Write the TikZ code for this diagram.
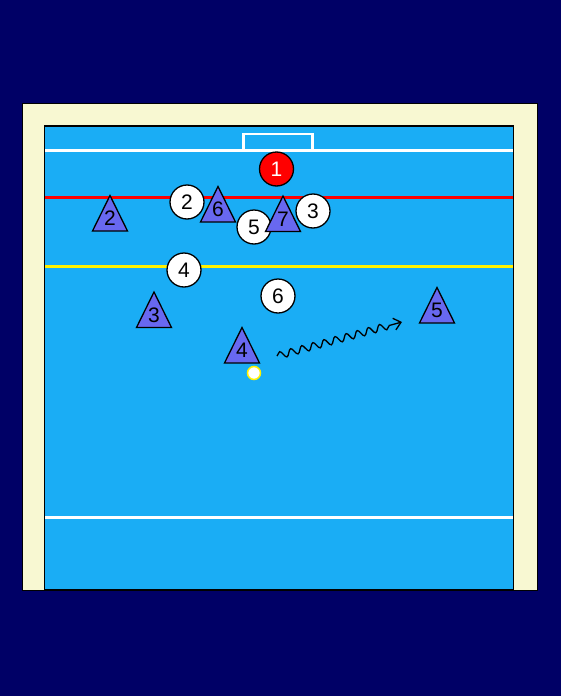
\documentclass[tikz,border=0pt]{standalone}
\usepackage{fontspec}
\setmainfont{Liberation Sans}
\usetikzlibrary{decorations.pathmorphing,arrows.meta}
\definecolor{navybg}{RGB}{0,0,102}
\definecolor{creambg}{RGB}{248,248,210}
\definecolor{pool}{RGB}{26,173,245}
\definecolor{tricol}{RGB}{104,104,240}
\tikzset{
  defender/.style={circle, draw=black, line width=1.3pt, fill=white, minimum size=34pt, inner sep=0pt, font=\fontsize{21}{21}\selectfont},
  keeper/.style={defender, fill=red, text=white},
  trishape/.style={draw=black, line width=1.3pt, fill=tricol, line join=miter},
  trilabel/.style={inner sep=0pt, font=\fontsize{21}{21}\selectfont},
  courtline/.style={line width=3pt},
}
\newcommand{\attackerpl}[4]{% name, x, apex y, label
  \fill[trishape] (#2-17.5,#3+35.5) -- (#2,#3) -- (#2+17.5,#3+35.5) -- cycle;
  \node[trilabel] (#1) at (#2,#3+23) {#4};
}
\begin{document}
\begin{tikzpicture}[x=1pt,y=-1pt]
\useasboundingbox (0,0) rectangle (560,696);
\fill[navybg] (-3,-3) rectangle (563,699);
\draw[fill=creambg, draw=black, line width=1pt] (22,103) rectangle (537,590);
\draw[fill=pool, draw=black, line width=1.3pt] (44.5,126) rectangle (513.5,590);
% lines
\draw[courtline, white] (45,150) -- (513,150);
\draw[white, line width=2.5pt] (243.5,150) -- (243.5,134) -- (312.5,134) -- (312.5,150);
\draw[courtline, red] (45,197) -- (513,197);
\draw[courtline, yellow] (45,266) -- (513,266);
\draw[courtline, white] (45,517) -- (513,517);
% defenders
\node[keeper] (k1) at (276.5,169) {1};
\node[defender] (d2) at (187,202) {2};
\node[defender] (d4) at (184,270) {4};
\node[defender] (d6) at (278,296) {6};
% attackers
\attackerpl{a2}{110}{195.5}{2}
\attackerpl{a6}{218}{186.5}{6}
\node[defender] (d5) at (254,227) {5};
\attackerpl{a7}{283}{196}{7}
\node[defender] (d3) at (313,211) {3};
\attackerpl{a3}{154}{292}{3}
\attackerpl{a4}{242}{327.5}{4}
\attackerpl{a5}{437}{287.5}{5}
% ball
\node[circle, fill=white, draw=yellow, line width=1.5pt, minimum size=13pt, inner sep=0pt] (ball) at (254,373) {};
% swim path
\coordinate (s0) at (277,356);
\coordinate (s1) at (402,322);
\draw[black, line width=1.3pt, -{Straight Barb[length=7pt,width=12pt]}, decorate, decoration={snake, amplitude=3.5pt, segment length=11.5pt, post length=8pt}] (s0) -- (s1);
\end{tikzpicture}
\end{document}
